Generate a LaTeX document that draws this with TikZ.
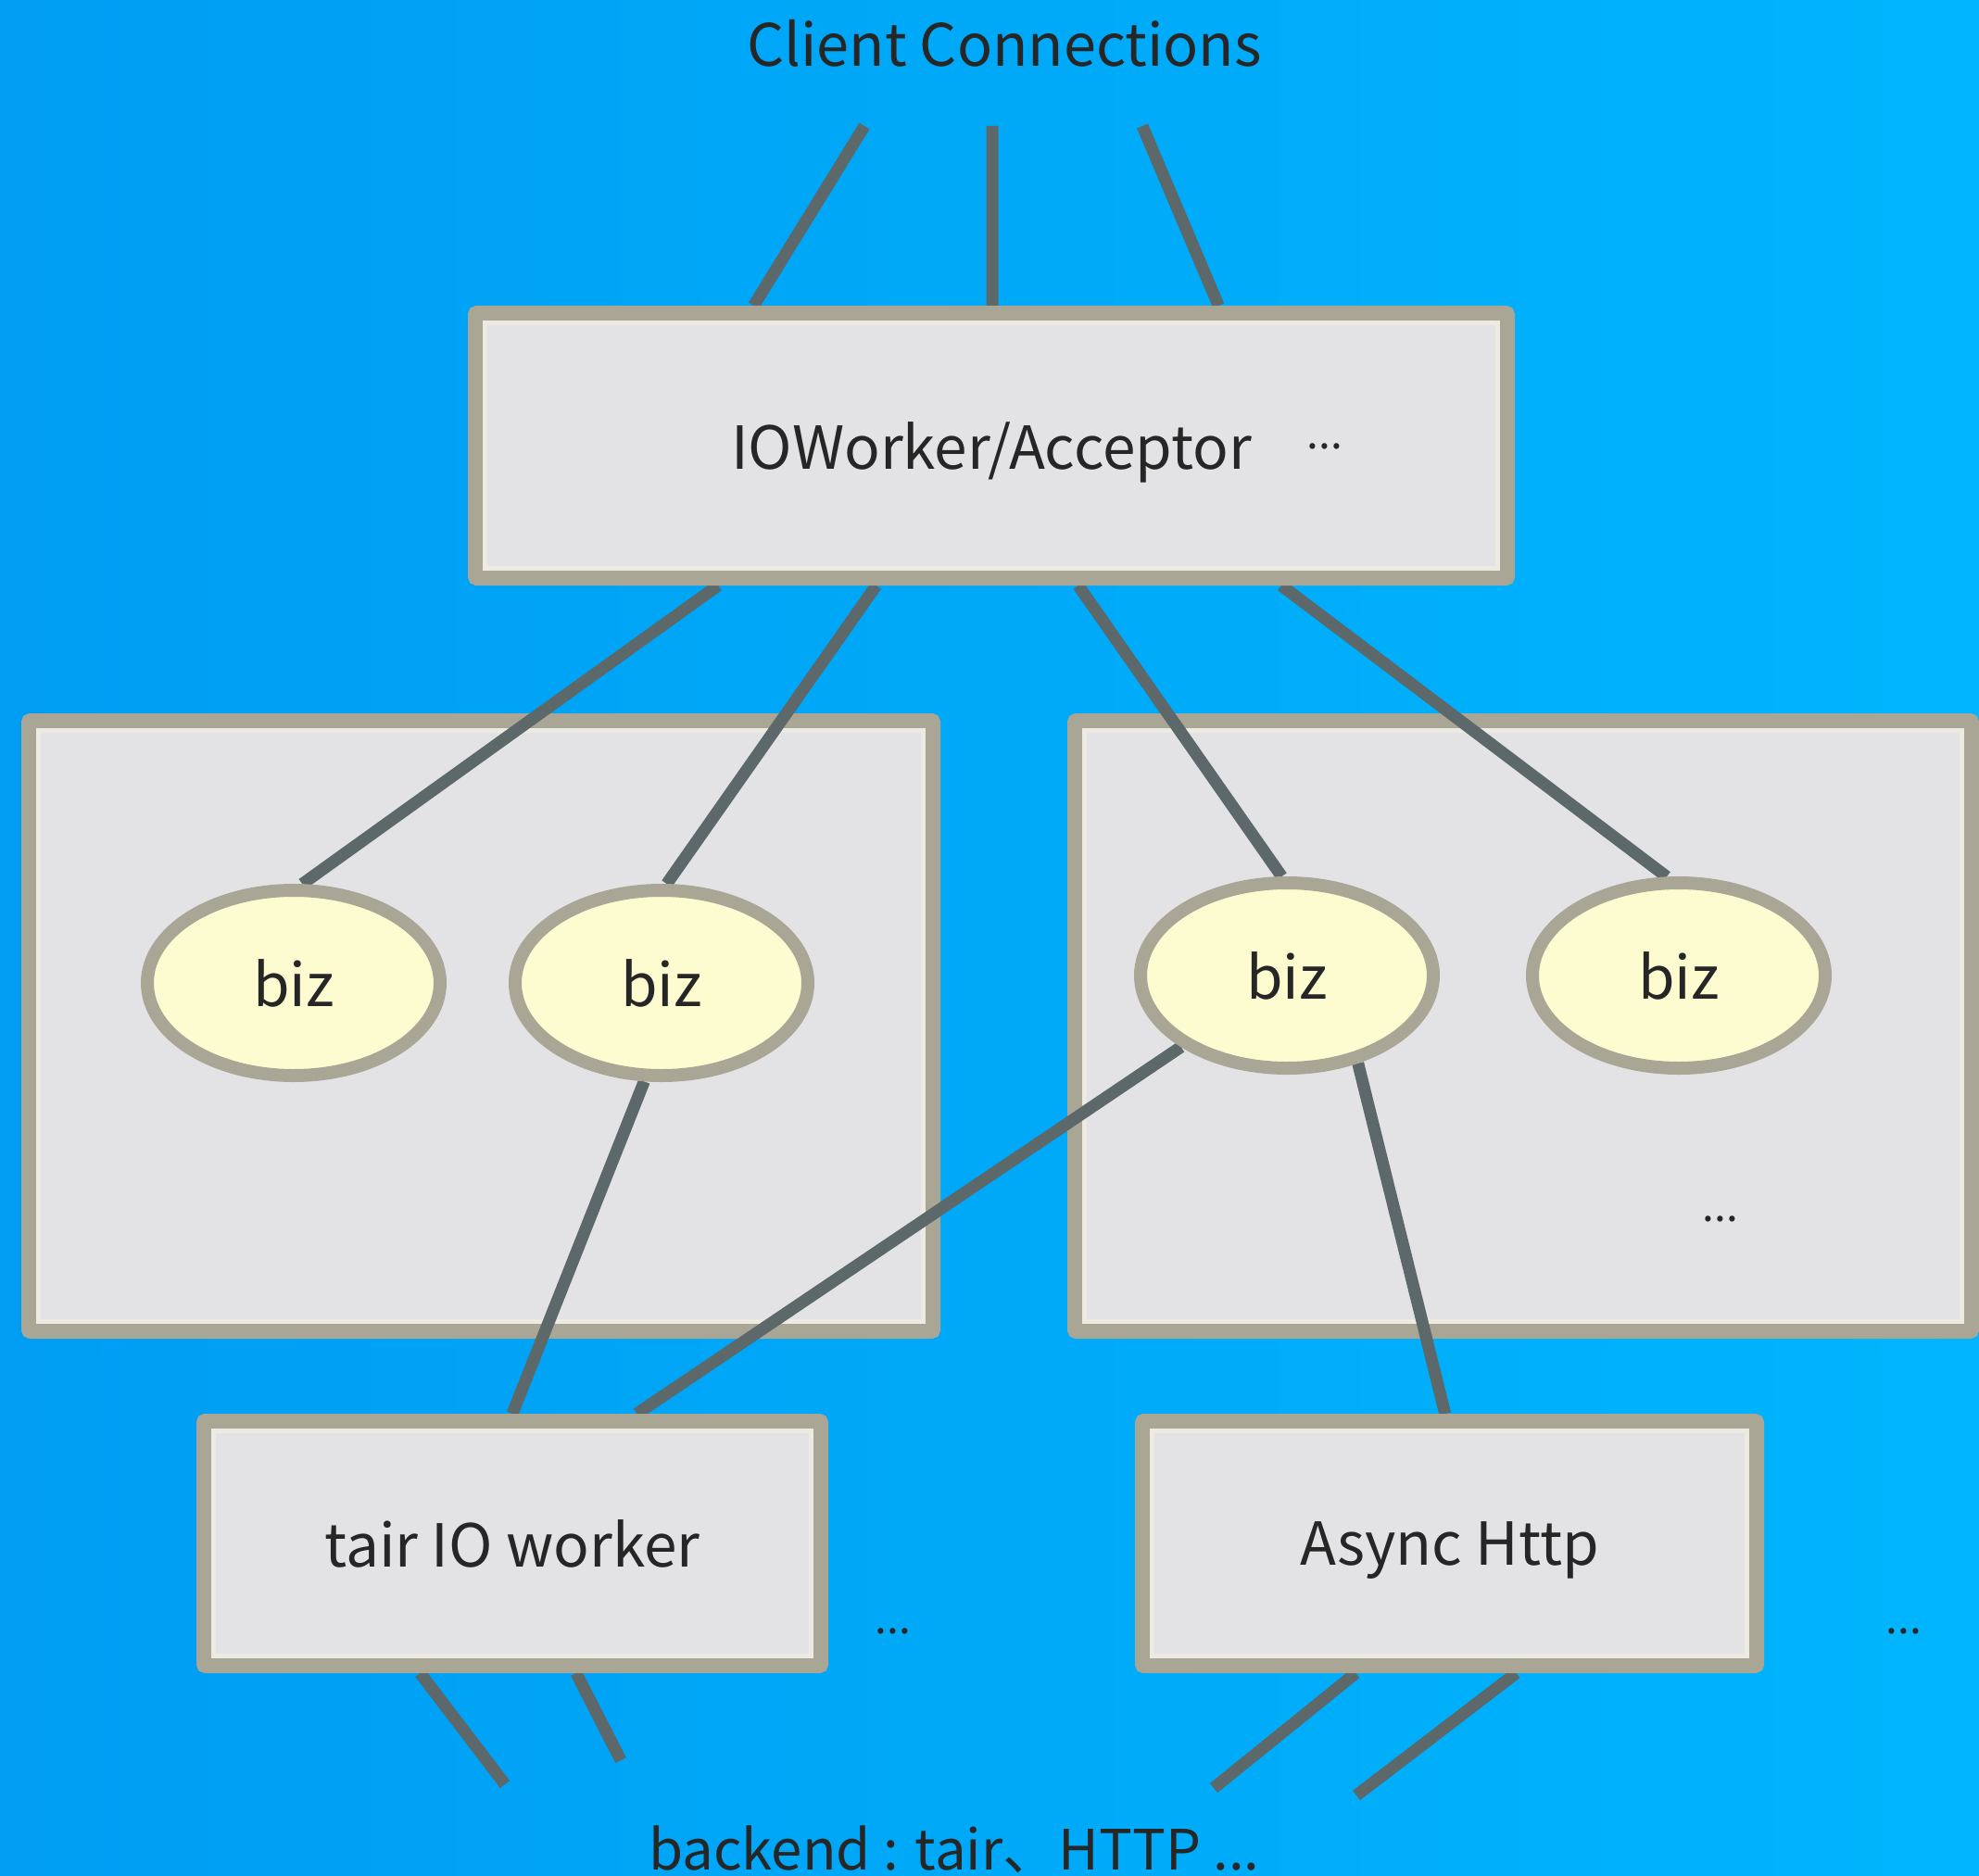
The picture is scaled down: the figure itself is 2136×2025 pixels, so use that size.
\documentclass[tikz,border=0pt]{standalone}
\usepackage{fontspec}
\setmainfont{Noto Sans CJK SC}
\usetikzlibrary{shapes.geometric,calc}

\definecolor{bgleft}{RGB}{0,157,243}
\definecolor{bgright}{RGB}{0,181,253}
\definecolor{frame}{RGB}{170,166,150}
\definecolor{rim}{RGB}{237,235,225}
\definecolor{panel}{RGB}{227,227,229}
\definecolor{bizfill}{RGB}{253,251,208}
\definecolor{wirecol}{RGB}{92,104,105}
\definecolor{ink}{RGB}{38,38,38}

\pgfdeclarelayer{back}
\pgfdeclarelayer{wires}
\pgfsetlayers{back,wires,main}

\begin{document}
\begin{tikzpicture}[x=1pt,y=-1pt,
  panelbox/.style={rectangle,draw=frame,fill=panel,line width=16pt,inner sep=0pt,
                   rounded corners=2pt,
                   text=ink,font=\fontsize{64}{76}\selectfont,text depth=0pt},
  innerrim/.style={draw=rim,line width=5pt},
  bizbox/.style={ellipse,draw=frame,fill=bizfill,line width=14pt,inner sep=0pt,
                 minimum width=316pt,minimum height=200pt,
                 text=ink,font=\fontsize{64}{76}\selectfont},
  wire/.style={draw=wirecol,line width=13pt},
  caption/.style={text=ink,font=\fontsize{63}{76}\selectfont,inner sep=0pt,anchor=base},
  dots/.style={text=ink,font=\fontsize{46}{50}\selectfont,inner sep=0pt,anchor=base}]

\useasboundingbox (0,0) rectangle (2136,2025);

% backdrop and the two worker groups
\begin{pgfonlayer}{back}
  \shade[left color=bgleft,right color=bgright] (0,0) rectangle (2136,2025);
  \node[panelbox,minimum width=976pt,minimum height=659pt] (grpL) at (519,1107.5) {};
  \node[panelbox,minimum width=968pt,minimum height=659pt] (grpR) at (1644,1107.5) {};
  % light rim just inside each frame
  \foreach \n in {grpL,grpR}
    \draw[innerrim] ($(\n.north west)+(18.5,18.5)$) rectangle ($(\n.south east)+(-18.5,-18.5)$);
\end{pgfonlayer}

% main nodes
\node[panelbox,minimum width=1114pt,minimum height=286pt] (acc) at (1070,481) {IOWorker/Acceptor};
\node[bizbox] (biz1) at (317,1061) {biz};
\node[bizbox] (biz2) at (714,1061) {biz};
\node[bizbox] (biz3) at (1389,1053) {biz};
\node[bizbox] (biz4) at (1812,1053) {biz};
\node[panelbox,minimum width=666pt,minimum height=264pt] (tair) at (553,1666) {tair IO worker};
\node[panelbox,minimum width=663pt,minimum height=264pt] (http) at (1564.5,1666) {Async Http};
\foreach \n in {acc,tair,http}
  \draw[innerrim] ($(\n.north west)+(18.5,18.5)$) rectangle ($(\n.south east)+(-18.5,-18.5)$);

% texts
\node[caption] (title) at (1084,72) {Client Connections};
\node[caption,font=\fontsize{60}{72}\selectfont] (backend) at (1030,2018) {backend : tair、HTTP ...};
\node[dots] (accdots) at (1430,484) {...};
\node[dots] (grpdots) at (1857,1318) {...};
\node[dots] (tairdots) at (964,1763) {...};
\node[dots] (httpdots) at (2055,1763) {...};

% free ends of the connections
\coordinate (t1) at (933,136);
\coordinate (t2) at (1071,136);
\coordinate (t3) at (1233,136);
\coordinate (b1) at (545,1926);
\coordinate (b2) at (670,1900);
\coordinate (b3) at (1310,1930);
\coordinate (b4) at (1464,1938);

\begin{pgfonlayer}{wires}
  % client connections into the acceptor
  \draw[wire] (t1) -- ($(acc.north west)!0.273!(acc.north east)$);
  \draw[wire] (t2) -- ($(acc.north west)!0.501!(acc.north east)$);
  \draw[wire] (t3) -- ($(acc.north west)!0.717!(acc.north east)$);
  % acceptor to biz threads
  \draw[wire] ($(acc.south west)!0.239!(acc.south east)$) -- (biz1.85);
  \draw[wire] ($(acc.south west)!0.390!(acc.south east)$) -- (biz2.87);
  \draw[wire] ($(acc.south west)!0.583!(acc.south east)$) -- (biz3.93);
  \draw[wire] ($(acc.south west)!0.777!(acc.south east)$) -- (biz4.97);
  % biz threads to backend workers
  \draw[wire] (biz2.-100) -- (tair.north);
  \draw[wire] (biz3) -- ($(tair.north west)!0.697!(tair.north east)$);
  \draw[wire] (biz3.-51) -- ($(http.north west)!0.493!(http.north east)$);
  % backend workers to backends
  \draw[wire] ($(tair.south west)!0.354!(tair.south east)$) -- (b1);
  \draw[wire] ($(tair.south west)!0.601!(tair.south east)$) -- (b2);
  \draw[wire] ($(http.south west)!0.351!(http.south east)$) -- (b3);
  \draw[wire] ($(http.south west)!0.606!(http.south east)$) -- (b4);
\end{pgfonlayer}

\end{tikzpicture}
\end{document}
